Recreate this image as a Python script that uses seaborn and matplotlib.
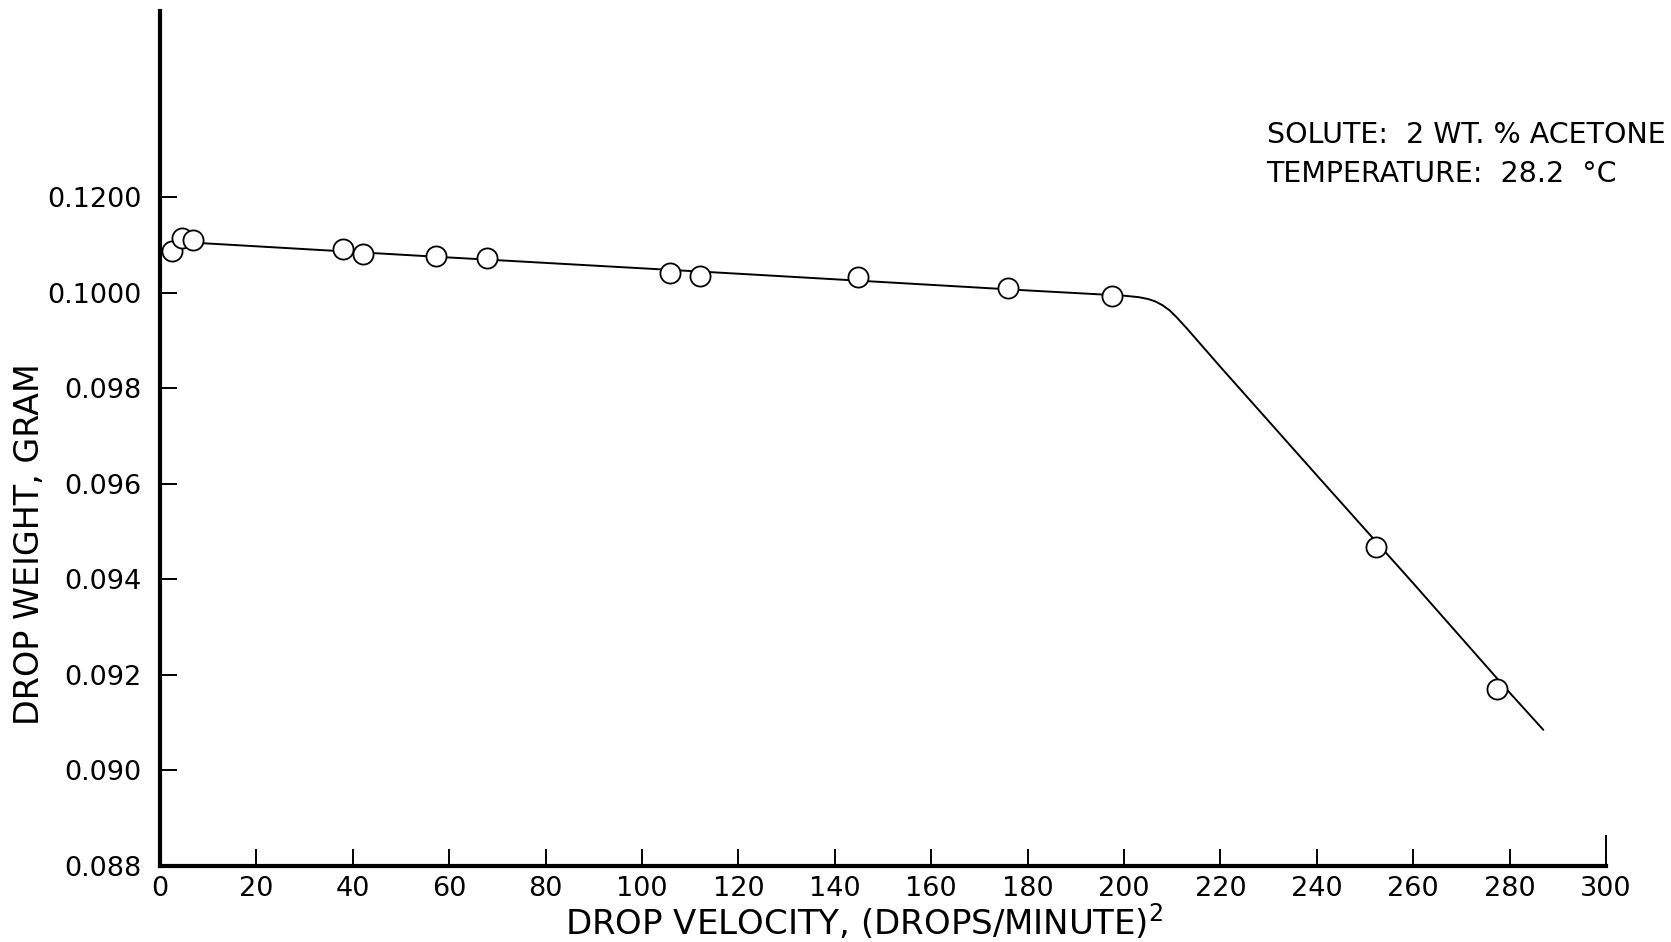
import matplotlib
matplotlib.use("Agg")
import matplotlib.pyplot as plt
import seaborn as sns
import pandas as pd
from matplotlib.ticker import FixedLocator, FixedFormatter

# ---- data (y in position units of the equally spaced tick grid) ----
point_velocity = [2.5, 4.6, 6.8, 38.0, 42.1, 57.3, 67.8, 105.8, 112.0, 144.8, 175.9, 197.5, 252.3, 277.4]
point_weight = [0.10087, 0.10114, 0.10110, 0.10091, 0.10081, 0.10077, 0.10073,
                0.10041, 0.10035, 0.10033, 0.10010, 0.09993, 0.09467, 0.09171]

curve_velocity = [8.7, 60, 120, 180, 200, 203, 205, 206.5, 208, 209.5, 211, 213, 220, 240, 260, 280, 287]
curve_weight = [0.10104, 0.10074, 0.10040, 0.10005, 0.09994, 0.09991, 0.09987, 0.09982,
                0.09974, 0.09963, 0.09948, 0.09926, 0.09845, 0.09618, 0.09392, 0.09163, 0.09085]

x_ticks = [0, 20, 40, 60, 80, 100, 120, 140, 160, 180, 200, 220, 240, 260, 280, 300]
x_tick_labels = [str(v) for v in x_ticks]
y_ticks = [0.088, 0.090, 0.092, 0.094, 0.096, 0.098, 0.100, 0.102]
y_tick_labels = ["0.088", "0.090", "0.092", "0.094", "0.096", "0.098", "0.1000", "0.1200"]

annotation_lines = ["SOLUTE:  2 WT. % ACETONE", "TEMPERATURE:  28.2  \u00b0C"]
x_label = "DROP VELOCITY, (DROPS/MINUTE)$^{2}$"
y_label = "DROP WEIGHT, GRAM"

points = pd.DataFrame({"velocity": point_velocity, "weight": point_weight})
curve = pd.DataFrame({"velocity": curve_velocity, "weight": curve_weight})

sns.set_theme(style="ticks")
plt.rcParams["font.family"] = ["DejaVu Sans"]
plt.rcParams["mathtext.fontset"] = "dejavusans"

fig = plt.figure(figsize=(16.71, 9.42), dpi=100)
ax = fig.add_axes([0.0957, 0.0807, 0.8654, 0.9076])

sns.lineplot(data=curve, x="velocity", y="weight", ax=ax, color="black",
             linewidth=1.4, sort=False, estimator=None, zorder=2)
sns.scatterplot(data=points, x="velocity", y="weight", ax=ax, marker="o", s=14.5 ** 2,
                color="white", edgecolor="black", linewidth=1.3, zorder=3)

ax.set_xlim(0, 300)
ax.set_ylim(0.088, 0.1059)

ax.xaxis.set_major_locator(FixedLocator(x_ticks))
ax.xaxis.set_major_formatter(FixedFormatter(x_tick_labels))
ax.yaxis.set_major_locator(FixedLocator(y_ticks))
ax.yaxis.set_major_formatter(FixedFormatter(y_tick_labels))

for side in ["top", "right"]:
    ax.spines[side].set_visible(False)
for side in ["left", "bottom"]:
    ax.spines[side].set_linewidth(3)
    ax.spines[side].set_color("black")

ax.tick_params(axis="both", direction="in", length=12, width=1.4, colors="black",
               labelsize=19.5, bottom=True, left=True)
ax.tick_params(axis="y", pad=13)
ax.tick_params(axis="x", pad=7)
ax.xaxis.get_major_ticks()[-1].tick1line.set_markersize(22)

ax.set_xlabel(x_label, fontsize=24.5, color="black", va="center")
ax.xaxis.set_label_coords(0.487, -0.0655)
ax.set_ylabel(y_label, fontsize=24, color="black", va="center")
ax.yaxis.set_label_coords(-0.0905, 0.377)

fig.text(0.758, 1 - 135 / 942, annotation_lines[0], fontsize=20.5, color="black",
         ha="left", va="center")
fig.text(0.758, 1 - 174 / 942, annotation_lines[1], fontsize=20.5, color="black",
         ha="left", va="center")

ax.set_facecolor("white")
fig.patch.set_facecolor("white")
fig.savefig("out.png", dpi=100)
